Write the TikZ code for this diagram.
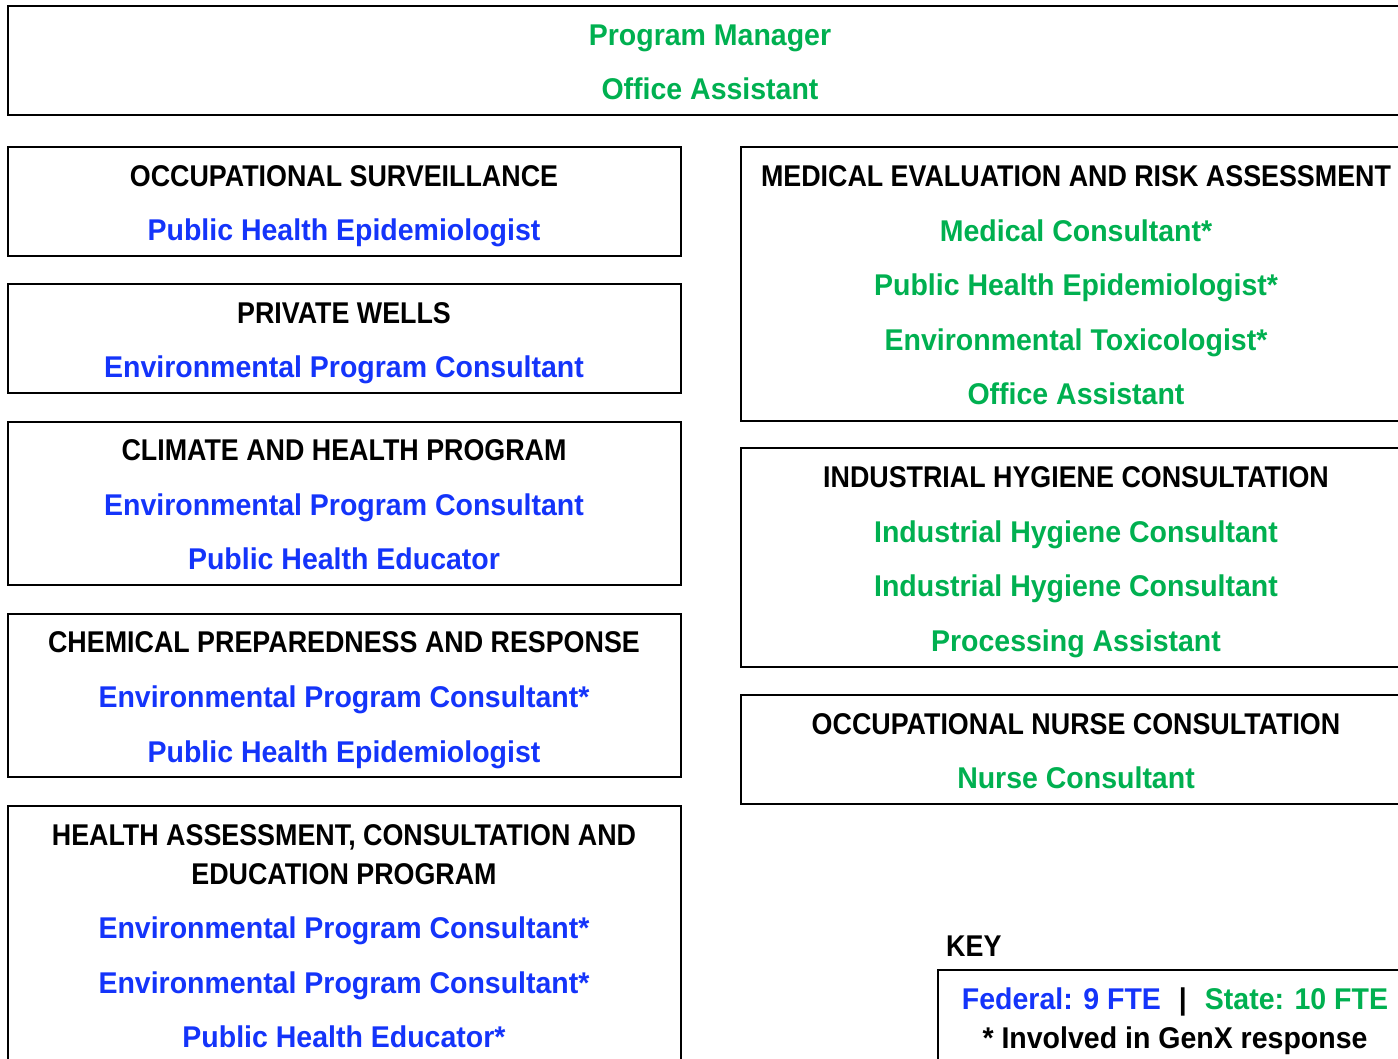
\documentclass[tikz,border=0pt]{standalone}
\usepackage{fontspec}
\setmainfont{Liberation Sans}[FakeStretch=0.95]
\newfontfamily\headfont{Liberation Sans}[FakeStretch=0.895]
\definecolor{fedblue}{RGB}{20,52,250}
\definecolor{stategreen}{RGB}{0,176,80}
\begin{document}
\begin{tikzpicture}[x=1pt,y=-1pt,
  box/.style={draw=black,line width=2.2pt,anchor=north west,inner sep=0pt},
  lbl/.style={anchor=base,inner sep=0pt,font=\fontsize{30}{35}\selectfont\bfseries},
  head/.style={anchor=base,inner sep=0pt,text=black,font=\headfont\fontsize{30}{35}\selectfont\bfseries},
  fed/.style={lbl,text=fedblue},
  st/.style={lbl,text=stategreen}]
\useasboundingbox (0,0) rectangle (1398,1058);
\clip (0,0) rectangle (1398,1058);

% top box
\node[box,minimum width=1406,minimum height=109] (top) at (7,5) {};
\node[st] (pm) at (710,45) {Program Manager};
\node[st] (oa) at (710,99) {Office Assistant};

% left column
\node[box,minimum width=673,minimum height=109] (os) at (7,146) {};
\node[head] (osh) at (344,186) {OCCUPATIONAL SURVEILLANCE};
\node[fed] (os1) at (344,240) {Public Health Epidemiologist};

\node[box,minimum width=673,minimum height=109] (pw) at (7,283) {};
\node[head] (pwh) at (344,323) {PRIVATE WELLS};
\node[fed] (pw1) at (344,377) {Environmental Program Consultant};

\node[box,minimum width=673,minimum height=163] (chp) at (7,421) {};
\node[head] (chph) at (344,460) {CLIMATE AND HEALTH PROGRAM};
\node[fed] (chp1) at (344,515) {Environmental Program Consultant};
\node[fed] (chp2) at (344,569) {Public Health Educator};

\node[box,minimum width=673,minimum height=163] (cpr) at (7,613) {};
\node[head] (cprh) at (344,652) {CHEMICAL PREPAREDNESS AND RESPONSE};
\node[fed] (cpr1) at (344,707) {Environmental Program Consultant*};
\node[fed] (cpr2) at (344,762) {Public Health Epidemiologist};

\node[box,minimum width=673,minimum height=300] (hace) at (7,805) {};
\node[head] (haceh1) at (344,845) {HEALTH ASSESSMENT, CONSULTATION AND};
\node[head] (haceh2) at (344,884) {EDUCATION PROGRAM};
\node[fed] (hace1) at (344,938) {Environmental Program Consultant*};
\node[fed] (hace2) at (344,993) {Environmental Program Consultant*};
\node[fed] (hace3) at (344,1047) {Public Health Educator*};

% right column
\node[box,minimum width=672,minimum height=274] (mera) at (740,146) {};
\node[head] (merah) at (1076,186) {MEDICAL EVALUATION AND RISK ASSESSMENT};
\node[st] (mera1) at (1076,241) {Medical Consultant*};
\node[st] (mera2) at (1076,295) {Public Health Epidemiologist*};
\node[st] (mera3) at (1076,350) {Environmental Toxicologist*};
\node[st] (mera4) at (1076,404) {Office Assistant};

\node[box,minimum width=672,minimum height=219] (ihc) at (740,447) {};
\node[head] (ihch) at (1076,487) {INDUSTRIAL HYGIENE CONSULTATION};
\node[st] (ihc1) at (1076,542) {Industrial Hygiene Consultant};
\node[st] (ihc2) at (1076,596) {Industrial Hygiene Consultant};
\node[st] (ihc3) at (1076,651) {Processing Assistant};

\node[box,minimum width=672,minimum height=109] (onc) at (740,694) {};
\node[head] (onch) at (1076,734) {OCCUPATIONAL NURSE CONSULTATION};
\node[st] (onc1) at (1076,788) {Nurse Consultant};

% key
\node[head,anchor=base west] (keyh) at (946,956) {KEY};
\node[box,minimum width=475,minimum height=120] (key) at (937,969) {};
\node[lbl,anchor=base] (key1) at (1175,1009) {\textcolor{fedblue}{Federal: 9 FTE}\hspace{0.6em}|\hspace{0.6em}\textcolor{stategreen}{State: 10 FTE}};
\node[lbl,text=black] (key2) at (1175,1048) {* Involved in GenX response};
\end{tikzpicture}
\end{document}
